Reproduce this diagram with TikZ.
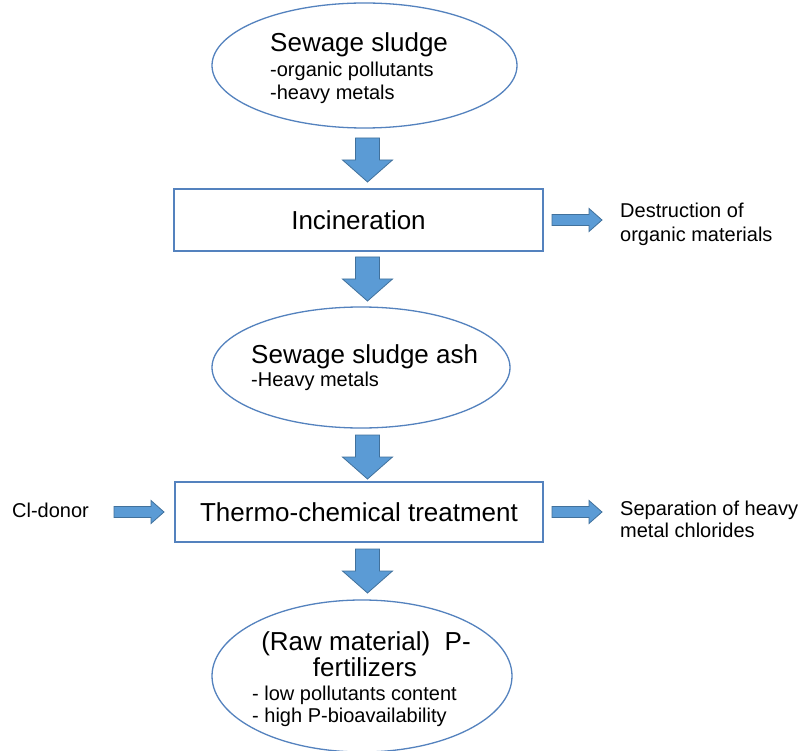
\documentclass[tikz,border=0pt]{standalone}
\usepackage{fontspec}
\setmainfont{Liberation Sans}
\usetikzlibrary{shapes.geometric}
\definecolor{arrowfill}{RGB}{91,155,213}
\definecolor{arrowline}{RGB}{65,113,156}
\definecolor{shapeline}{RGB}{84,130,190}
\begin{document}
\begin{tikzpicture}[x=1pt,y=-1pt,
  ell/.style={draw=shapeline, line width=1.3pt, ellipse, inner sep=0pt, fill=white},
  boxnode/.style={draw=shapeline, line width=1.3pt, rectangle, inner sep=0pt, fill=white,
     font=\fontsize{26}{30}\selectfont},
  title/.style={inner sep=0pt, font=\fontsize{26}{30}\selectfont},
  sub/.style={inner sep=0pt, font=\fontsize{20}{24}\selectfont},
  side/.style={inner sep=0pt, font=\fontsize{20}{24}\selectfont, anchor=base west},
  blockarrow/.style={fill=arrowfill, draw=arrowline, line width=0.8pt, line join=miter},
  downarr/.pic={\path[blockarrow] (-12,0) -- (12,0) -- (12,22) -- (25,22) -- (0,44) -- (-25,22) -- (-12,22) -- cycle;},
  rightarr/.pic={\path[blockarrow] (0,-5.5) -- (37,-5.5) -- (37,-11.5) -- (50,0) -- (37,11.5) -- (37,5.5) -- (0,5.5) -- cycle;}
]
\useasboundingbox[fill=white] (0,0) rectangle (803,751);

% shapes
\node[ell, minimum width=305pt, minimum height=125pt] (e1) at (364.5,65.5) {};
\node[boxnode, minimum width=369pt, minimum height=62pt] (b1) at (358.5,220) {Incineration};
\node[ell, minimum width=298pt, minimum height=121pt] (e2) at (361,367.5) {};
\node[boxnode, minimum width=368pt, minimum height=60pt] (b2) at (359,512) {Thermo-chemical treatment};
\node[ell, minimum width=300pt, minimum height=152pt] (e3) at (362,676) {};

% texts in ellipses
\node[title, anchor=base west] (t1a) at (270,52) {Sewage sludge};
\node[sub, anchor=base west] (t1b) at (270,77) {-organic pollutants};
\node[sub, anchor=base west] (t1c) at (270,100) {-heavy metals};

\node[title, anchor=base west] (t2a) at (251,363) {Sewage sludge ash};
\node[sub, anchor=base west] (t2b) at (251,386) {-Heavy metals};

\node[title, anchor=base] (t3a) at (366,650) {(Raw material)\ \ P-};
\node[title, anchor=base] (t3b) at (365,676) {fertilizers};
\node[sub, anchor=base west] (t3c) at (252,700) {- low pollutants content};
\node[sub, anchor=base west] (t3d) at (252,722) {- high P-bioavailability};

% side texts
\node[side] (d1) at (620,218) {Destruction of};
\node[side] (d2) at (620,242) {organic materials};
\node[side] (s1) at (620,515) {Separation of heavy};
\node[side] (s2) at (620,537) {metal chlorides};
\node[side] (cl) at (12,517) {Cl-donor};

% block arrows
\pic (a1) at (367.5,138) {downarr};
\pic (a2) at (367.5,257) {downarr};
\pic (a3) at (367.5,435) {downarr};
\pic (a4) at (367.5,549) {downarr};
\pic (r1) at (552,220) {rightarr};
\pic (r2) at (552,512) {rightarr};
\pic (l1) at (114,512) {rightarr};
\end{tikzpicture}
\end{document}
